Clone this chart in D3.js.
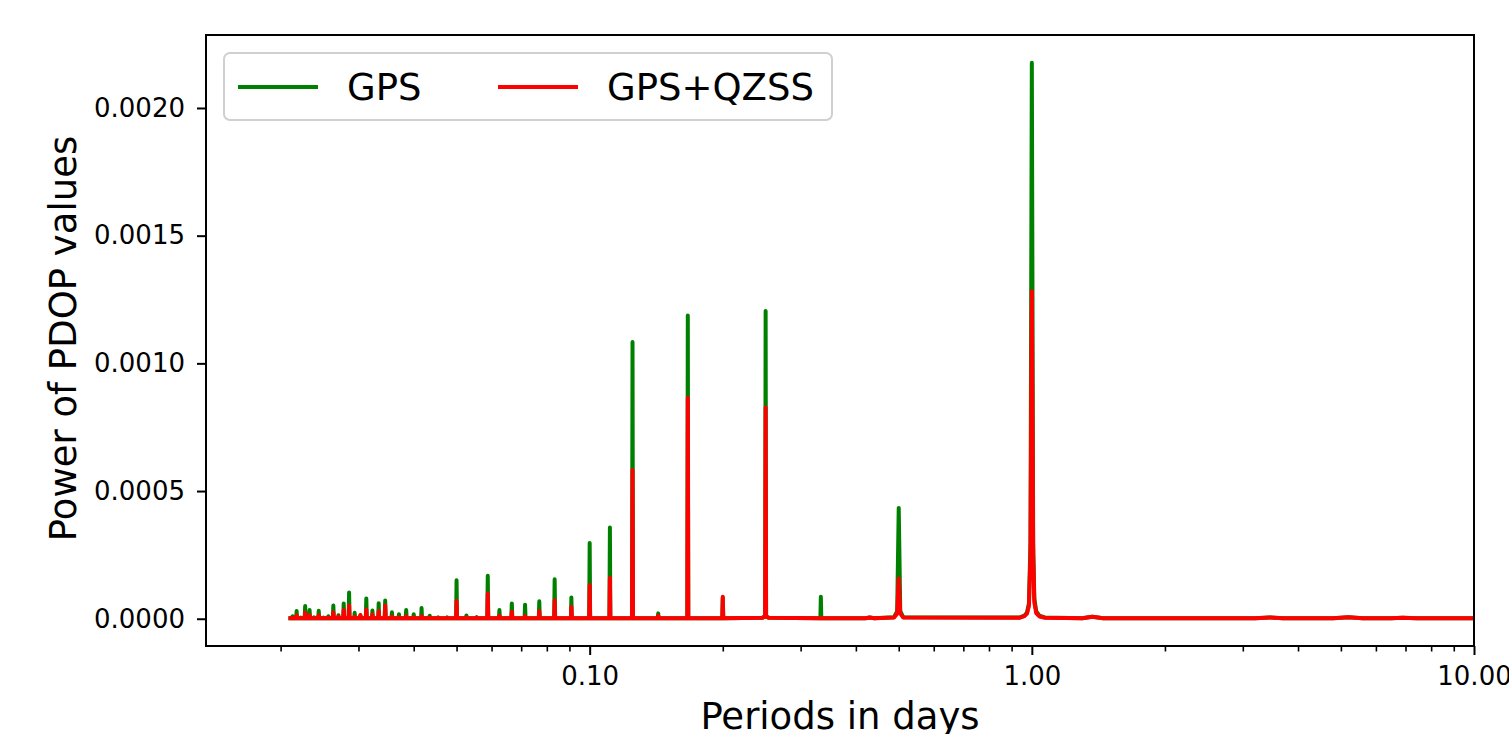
<!DOCTYPE html>
<html>
<head>
<meta charset="utf-8">
<script src="https://cdn.jsdelivr.net/npm/d3@7"></script>
<style>
  body { margin: 0; background: #fff; }
  text { font-family: "DejaVu Sans", sans-serif; }
</style>
</head>
<body>
<svg id="chart" width="1509" height="734"></svg>
<script>
// periods in days (one row per peak: left foot, peak, right foot)
let periods = [
    0.02083,
    0.02123, 0.02128, 0.02133,
    0.02169, 0.02174, 0.02179,
    0.02216, 0.02222, 0.02228,
    0.02267, 0.02273, 0.02279,
    0.02320, 0.02326, 0.02332,
    0.02375, 0.02381, 0.02387,
    0.02433, 0.02439, 0.02445,
    0.02494, 0.02500, 0.02506,
    0.02558, 0.02564, 0.02570,
    0.02625, 0.02632, 0.02639,
    0.02696, 0.02703, 0.02710,
    0.02771, 0.02778, 0.02785,
    0.02850, 0.02857, 0.02864,
    0.02934, 0.02941, 0.02948,
    0.03022, 0.03030, 0.03038,
    0.03117, 0.03125, 0.03133,
    0.03218, 0.03226, 0.03234,
    0.03325, 0.03333, 0.03341,
    0.03439, 0.03448, 0.03457,
    0.03562, 0.03571, 0.03580,
    0.03695, 0.03704, 0.03713,
    0.03836, 0.03846, 0.03856,
    0.03990, 0.04000, 0.04010,
    0.04157, 0.04167, 0.04177,
    0.04337, 0.04348, 0.04359,
    0.04534, 0.04545, 0.04556,
    0.04750, 0.04762, 0.04774,
    0.04988, 0.05000, 0.05012,
    0.05250, 0.05263, 0.05276,
    0.05542, 0.05556, 0.05570,
    0.05867, 0.05882, 0.05897,
    0.06234, 0.06250, 0.06266,
    0.06650, 0.06667, 0.06684,
    0.07125, 0.07143, 0.07161,
    0.07673, 0.07692, 0.07711,
    0.08312, 0.08333, 0.08354,
    0.09068, 0.09091, 0.09114,
    0.09975, 0.10000, 0.10025,
    0.11083, 0.11111, 0.11138,
    0.12469, 0.12500, 0.12531,
    0.14254, 0.14290, 0.14326,
    0.16628, 0.16670, 0.16712,
    0.19950, 0.20000, 0.20050,
    0.2460, 0.2494, 0.2500, 0.2506, 0.2540,
    0.3325, 0.3333, 0.3341,
    0.420, 0.430, 0.440,
    0.488, 0.496, 0.500, 0.504, 0.512,
    0.940, 0.962, 0.975, 0.985, 0.993, 1.000, 1.007, 1.013, 1.023, 1.040, 1.070,
    1.30, 1.37, 1.45,
    3.20, 3.45, 3.70,
    4.80, 5.20, 5.60,
    6.50, 6.90, 7.40,
    12.0
]

// power values, in units of 1e-6
let gpsPower = [
    2,
    2, 10, 2,
    2, 30, 2,
    2, 4, 2,
    2, 50, 2,
    2, 34, 2,
    2, 5, 2,
    2, 31, 2,
    2, 4, 2,
    2, 10, 2,
    2, 52, 2,
    2, 14, 2,
    2, 60, 2,
    2, 103, 2,
    2, 23, 2,
    2, 12, 2,
    2, 79, 2,
    2, 32, 2,
    2, 61, 2,
    2, 71, 2,
    2, 25, 2,
    2, 18, 2,
    2, 34, 2,
    2, 18, 2,
    2, 42, 2,
    2, 12, 2,
    2, 5, 2,
    2, 5, 2,
    2, 151, 2,
    2, 13, 2,
    2, 6, 2,
    2, 168, 2,
    2, 34, 2,
    2, 60, 2,
    2, 55, 2,
    2, 68, 2,
    2, 155, 2,
    2, 83, 2,
    2, 297, 2,
    2, 357, 2,
    2, 1084, 2,
    2, 21, 2,
    2, 1187, 2,
    2, 82, 2,
    4, 10, 1205, 10, 4,
    2, 86, 2,
    2, 5, 2,
    6, 30, 434, 30, 6,
    5, 12, 25, 60, 300, 2177, 300, 80, 30, 12, 5,
    2, 8, 2,
    2, 5, 2,
    2, 6, 2,
    2, 4, 2,
    2
]

let qzssPower = [
    2,
    2, 3, 2,
    2, 14, 2,
    2, 2, 2,
    2, 23, 2,
    2, 14, 2,
    2, 3, 2,
    2, 14, 2,
    2, 2, 2,
    2, 4, 2,
    2, 25, 2,
    2, 8, 2,
    2, 34, 2,
    2, 52, 2,
    2, 8, 2,
    2, 15, 2,
    2, 36, 2,
    2, 17, 2,
    2, 30, 2,
    2, 52, 2,
    2, 8, 2,
    2, 5, 2,
    2, 10, 2,
    2, 5, 2,
    2, 10, 2,
    2, 4, 2,
    2, 3, 2,
    2, 3, 2,
    2, 69, 2,
    2, 4, 2,
    2, 4, 2,
    2, 99, 2,
    2, 12, 2,
    2, 27, 2,
    2, 10, 2,
    2, 30, 2,
    2, 72, 2,
    2, 47, 2,
    2, 132, 2,
    2, 160, 2,
    2, 582, 2,
    2, 12, 2,
    2, 865, 2,
    2, 86, 2,
    4, 10, 827, 10, 4,
    2, 2, 2,
    2, 5, 2,
    5, 20, 158, 20, 5,
    4, 10, 20, 50, 250, 1282, 250, 65, 22, 9, 4,
    2, 8, 2,
    2, 5, 2,
    2, 6, 2,
    2, 4, 2,
    2
]

let seriesNames = ['GPS', 'GPS+QZSS']
let seriesColors = ['green', 'red']
let xMajorTicks = [0.1, 1, 10]
let yTicks = [0, 0.0005, 0.001, 0.0015, 0.002]

let makeSpectrum = () => {
    let chart = d3.select('#chart')
    let margin = {top: 35, left: 206, right: 35, bottom: 88}
    let width = 1268, height = 611

    let series = [gpsPower, qzssPower].map((vals) => {
        return periods.map((p, i) => ({period: p, power: vals[i] * 1e-6}))
    })

    // x is log scale, left edge a bit below 0.0136 days
    let x = d3.scaleLog().domain([0.013561, 10]).range([0, width])

    // y range padded 5% like the original plot
    let allVals = series.flat().map(d => d.power)
    let lo = d3.min(allVals), hi = d3.max(allVals)
    let pad = (hi - lo) * 0.05
    let y = d3.scaleLinear().domain([lo - pad, hi + pad]).range([height, 0])

    let g = chart.append('g').attr('transform', 'translate(' + margin.left + ',' + margin.top + ')')

    g.append('clipPath').attr('id', 'plot-clip')
        .append('rect').attr('width', width).attr('height', height)

    let line = d3.line()
        .x(d => x(d.period))
        .y(d => y(d.power))

    g.append('g').attr('clip-path', 'url(#plot-clip)')
        .selectAll('path')
        .data(series)
        .enter().append('path')
        .attr('d', line)
        .attr('fill', 'none')
        .attr('stroke', (d, i) => seriesColors[i])
        .attr('stroke-width', 4)
        .attr('stroke-linejoin', 'round')

    // minor x ticks
    let minorTicks = x.ticks().filter(t => !xMajorTicks.some(m => Math.abs(m - t) < 1e-9))
    let xMinor = g.append('g')
        .attr('transform', 'translate(0,' + height + ')')
        .call(d3.axisBottom(x).tickValues(minorTicks).tickFormat('').tickSize(5.5))
    xMinor.select('.domain').remove()
    xMinor.selectAll('line').attr('stroke-width', 1.6)

    // major x ticks
    let xAxis = g.append('g')
        .attr('transform', 'translate(0,' + height + ')')
        .call(d3.axisBottom(x).tickValues(xMajorTicks).tickFormat(d3.format('.2f')).tickSize(9).tickPadding(11.5))
    xAxis.select('.domain').remove()
    xAxis.selectAll('line').attr('stroke-width', 2)
    xAxis.selectAll('text').attr('font-size', 26).attr('fill', '#000').style('font-family', '"DejaVu Sans", sans-serif')

    let yAxis = g.append('g')
        .call(d3.axisLeft(y).tickValues(yTicks).tickFormat(d3.format('.4f')).tickSize(9).tickPadding(12))
    yAxis.select('.domain').remove()
    yAxis.selectAll('line').attr('stroke-width', 2)
    yAxis.selectAll('text').attr('font-size', 26).attr('fill', '#000').style('font-family', '"DejaVu Sans", sans-serif')

    // frame
    g.append('rect')
        .attr('width', width).attr('height', height)
        .attr('fill', 'none').attr('stroke', '#000').attr('stroke-width', 2)

    // axis labels
    chart.append('text')
        .attr('x', margin.left + width / 2)
        .attr('y', 729)
        .attr('text-anchor', 'middle')
        .attr('font-size', 37)
        .text('Periods in days')

    chart.append('text')
        .attr('transform', 'rotate(-90)')
        .attr('x', -(margin.top + height / 2) + 2)
        .attr('y', 76)
        .attr('text-anchor', 'middle')
        .attr('font-size', 37)
        .text('Power of PDOP values')

    // legend
    let legend = chart.append('g').attr('transform', 'translate(224,53)')
    legend.append('rect')
        .attr('width', 608).attr('height', 67).attr('rx', 6)
        .attr('fill', '#fff').attr('fill-opacity', 0.8)
        .attr('stroke', '#d0d0d0').attr('stroke-width', 2)
    let items = [{x: 14}, {x: 274}]
    items.forEach((it, i) => {
        legend.append('line')
            .attr('x1', it.x).attr('x2', it.x + 80)
            .attr('y1', 34).attr('y2', 34)
            .attr('stroke', seriesColors[i]).attr('stroke-width', 4)
        legend.append('text')
            .attr('x', it.x + 109)
            .attr('y', 47)
            .attr('font-size', 37)
            .text(seriesNames[i])
    })
}

makeSpectrum()
</script>
</body>
</html>
